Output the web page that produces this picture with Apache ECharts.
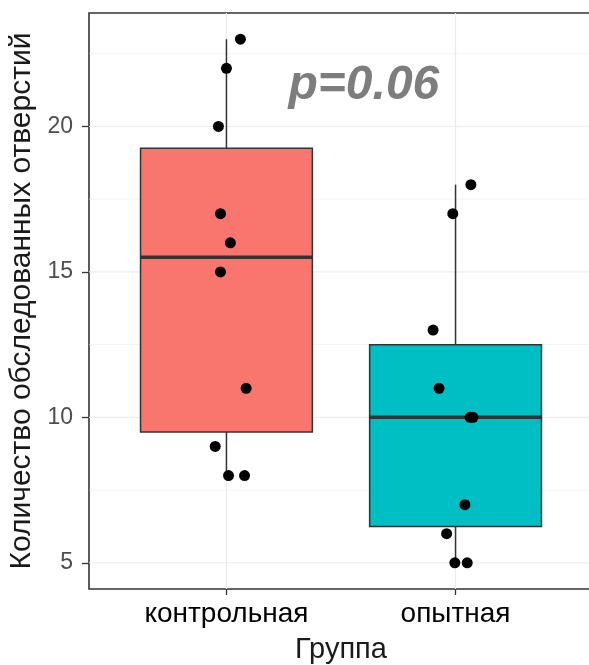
<!DOCTYPE html>
<html>
<head>
<meta charset="utf-8">
<style>
  html, body { margin: 0; padding: 0; background: #ffffff; }
  #chart { width: 589px; height: 665px; }
</style>
<script src="https://cdn.jsdelivr.net/npm/echarts@6/dist/echarts.min.js"></script>
</head>
<body>
<div id="chart"></div>
<script>
// ---- data ----
const categories = ['контрольная', 'опытная'];
const controlValues = [23, 22, 20, 17, 16, 15, 11, 9, 8, 8];
const controlJitter = [0.061, 0.0, -0.035, -0.026, 0.017, -0.026, 0.086, -0.049, 0.009, 0.079];
const experimentValues = [18, 17, 13, 11, 10, 10, 7, 6, 5, 5];
const experimentJitter = [0.067, -0.012, -0.098, -0.072, 0.063, 0.076, 0.041, -0.039, -0.003, 0.051];
const yTicks = [5, 10, 15, 20];
const yMinorGrid = [7.5, 12.5, 17.5, 22.5];
const xTicks = [1, 2];
const pValueText = 'p=0.06';
const pValuePos = [1.6, 21.4];
const groupColors = ['#F8766D', '#00BFC4'];
const xTitle = 'Группа';
const yTitle = 'Количество обследованных отверстий';

// ---- box statistics (R quantile type 7, whiskers to min/max within 1.5 IQR) ----
function quantile(sorted, p) {
  const h = (sorted.length - 1) * p;
  const lo = Math.floor(h), hi = Math.ceil(h);
  return sorted[lo] + (h - lo) * (sorted[hi] - sorted[lo]);
}
function boxStats(values) {
  const s = values.slice().sort((a, b) => a - b);
  const q1 = quantile(s, 0.25), med = quantile(s, 0.5), q3 = quantile(s, 0.75);
  const iqr = q3 - q1;
  const inside = s.filter(v => v >= q1 - 1.5 * iqr && v <= q3 + 1.5 * iqr);
  return [inside[0], q1, med, q3, inside[inside.length - 1]];
}
const groups = [controlValues, experimentValues];
const boxData = groups.map((vals, i) => [i + 1].concat(boxStats(vals)));
const pointData = []
  .concat(controlValues.map((v, i) => [1 + controlJitter[i], v]))
  .concat(experimentValues.map((v, i) => [2 + experimentJitter[i], v]));

const gridData = []
  .concat(yTicks.map(v => ['h', v, 1.1]))
  .concat(yMinorGrid.map(v => ['h', v, 0.6]))
  .concat(xTicks.map(v => ['v', v, 1.1]));

const X_MIN = 0.4, X_MAX = 2.6, Y_MIN = 4.1, Y_MAX = 23.9;
const FONT = '"Liberation Sans", Arial, sans-serif';

const chart = echarts.init(document.getElementById('chart'), null, { renderer: 'canvas' });
chart.setOption({
  backgroundColor: '#ffffff',
  animation: false,
  grid: {
    left: 89, top: 13, width: 504, height: 576,
    show: true, backgroundColor: '#ffffff', borderColor: '#333333', borderWidth: 1.6,
    containLabel: false, outerBoundsMode: 'none'
  },
  xAxis: {
    type: 'value', min: X_MIN, max: X_MAX,
    axisLine: { show: false },
    splitLine: { show: false },
    axisTick: { show: true, customValues: xTicks, length: 6, lineStyle: { color: '#333333', width: 1.3 } },
    axisLabel: {
      customValues: xTicks, margin: 11,
      formatter: v => categories[Math.round(v) - 1] || '',
      color: '#000000', fontSize: 28, fontFamily: FONT
    },
    name: xTitle, nameLocation: 'middle', nameGap: 46,
    nameTextStyle: { color: '#1a1a1a', fontSize: 29, fontFamily: FONT }
  },
  yAxis: {
    type: 'value', min: Y_MIN, max: Y_MAX,
    axisLine: { show: false },
    splitLine: { show: false },
    axisTick: { show: true, customValues: yTicks, length: 7, lineStyle: { color: '#333333', width: 1.3 } },
    axisLabel: {
      customValues: yTicks, margin: 16,
      color: '#4d4d4d', fontSize: 23, fontFamily: FONT
    },
    name: yTitle, nameLocation: 'middle', nameGap: 41, nameRotate: 90,
    nameTextStyle: { color: '#1a1a1a', fontSize: 30, fontFamily: FONT }
  },
  series: [
    {
      name: 'grid', type: 'custom', silent: true, z: 1,
      data: gridData,
      renderItem: function (params, api) {
        const dir = gridData[params.dataIndex][0];
        const v = api.value(1), w = api.value(2);
        let p1, p2;
        if (dir === 'h') { p1 = api.coord([X_MIN, v]); p2 = api.coord([X_MAX, v]); }
        else { p1 = api.coord([v, Y_MIN]); p2 = api.coord([v, Y_MAX]); }
        return {
          type: 'line',
          shape: { x1: p1[0], y1: p1[1], x2: p2[0], y2: p2[1] },
          style: { stroke: '#ebebeb', lineWidth: w }
        };
      },
      encode: { x: 1, y: 1 }
    },
    {
      name: 'box', type: 'custom', z: 2,
      data: boxData,
      encode: { x: 0, y: [1, 2, 3, 4, 5] },
      renderItem: function (params, api) {
        const x = api.value(0);
        const lo = api.value(1), q1 = api.value(2), med = api.value(3), q3 = api.value(4), hi = api.value(5);
        const half = 0.375;
        const pTopLeft = api.coord([x - half, q3]);
        const pBotRight = api.coord([x + half, q1]);
        const pMedL = api.coord([x - half, med]);
        const pMedR = api.coord([x + half, med]);
        const pHi = api.coord([x, hi]);
        const pQ3 = api.coord([x, q3]);
        const pQ1 = api.coord([x, q1]);
        const pLo = api.coord([x, lo]);
        const line = { stroke: '#333333', lineWidth: 1.5 };
        return {
          type: 'group',
          children: [
            { type: 'line', shape: { x1: pHi[0], y1: pHi[1], x2: pQ3[0], y2: pQ3[1] }, style: line },
            { type: 'line', shape: { x1: pQ1[0], y1: pQ1[1], x2: pLo[0], y2: pLo[1] }, style: line },
            {
              type: 'rect',
              shape: { x: pTopLeft[0], y: pTopLeft[1], width: pBotRight[0] - pTopLeft[0], height: pBotRight[1] - pTopLeft[1] },
              style: { fill: groupColors[params.dataIndex], stroke: '#333333', lineWidth: 1.5 }
            },
            { type: 'line', shape: { x1: pMedL[0], y1: pMedL[1], x2: pMedR[0], y2: pMedR[1] }, style: { stroke: '#333333', lineWidth: 3.5 } }
          ]
        };
      }
    },
    {
      name: 'points', type: 'scatter', z: 3,
      data: pointData,
      symbol: 'circle', symbolSize: 11,
      itemStyle: { color: '#000000', opacity: 1 }
    },
    {
      name: 'pvalue', type: 'scatter', z: 4, silent: true,
      data: [pValuePos],
      symbolSize: 0,
      label: {
        show: true, position: 'inside', formatter: pValueText,
        color: '#5c5c5c', fontSize: 48, fontStyle: 'italic', fontWeight: 'bold', fontFamily: FONT
      }
    }
  ]
});
</script>
</body>
</html>
